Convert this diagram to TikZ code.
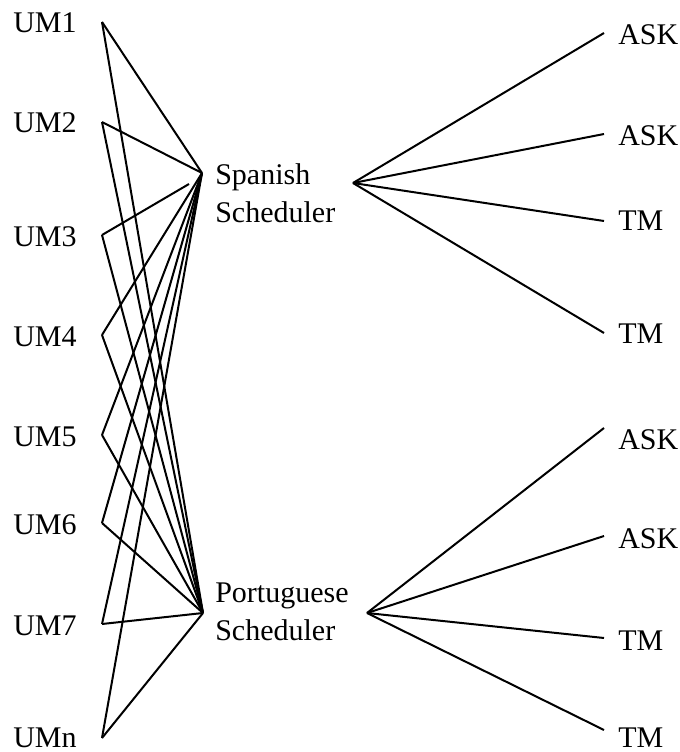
\documentclass[tikz,border=0pt]{standalone}
\usepackage{fontspec}
\setmainfont{Liberation Serif}
\begin{document}
\begin{tikzpicture}[x=0.75pt,y=-0.75pt,
  lbl/.style={inner sep=0pt,anchor=base west,font=\fontsize{22.5}{28.5}\selectfont},
  conn/.style={line width=1.5pt,line join=miter}]
\useasboundingbox (0,0) rectangle (680,752);
% left ports
\foreach \n/\y/\ty/\t in {1/22/33/UM1,2/122/133/UM2,3/235/246/UM3,4/335/346/UM4,5/435/446/UM5,6/523/534/UM6,7/624/635/UM7,8/738/747/UMn}{
  \coordinate (u\n) at (102,\y);
  \node[lbl] (t\n) at (13,\ty) {\t};
}
% hubs
\coordinate (sl) at (202,173);
\coordinate (sr) at (353,183);
\coordinate (pl) at (203,613);
\coordinate (pr) at (367,613);
\coordinate (s3) at (189,184);
\node[lbl,align=left] (sp) at (215,223) {Spanish\\Scheduler};
\node[lbl,align=left] (pt) at (215,640) {Portuguese\\Scheduler};
% right ports
\foreach \n/\y/\ty/\t in {1/33/45/ASK,2/134/146/ASK,3/221/230/TM,4/333/343/TM}{
  \coordinate (a\n) at (604,\y);
  \node[lbl] (at\n) at (618,\ty) {\t};
}
\foreach \n/\y/\ty/\t in {1/428/449/ASK,2/536/548/ASK,3/638/650/TM,4/730/747/TM}{
  \coordinate (b\n) at (604,\y);
  \node[lbl] (bt\n) at (618,\ty) {\t};
}
% connectors
\foreach \n in {1,2,4,5,6,7,8}{\draw[conn] (u\n) -- (sl);}
\draw[conn] (u3) -- (s3);
\foreach \n in {1,...,8}{\draw[conn] (u\n) -- (pl);}
\foreach \n in {1,...,4}{\draw[conn] (sr) -- (a\n); \draw[conn] (pr) -- (b\n);}
\end{tikzpicture}
\end{document}
